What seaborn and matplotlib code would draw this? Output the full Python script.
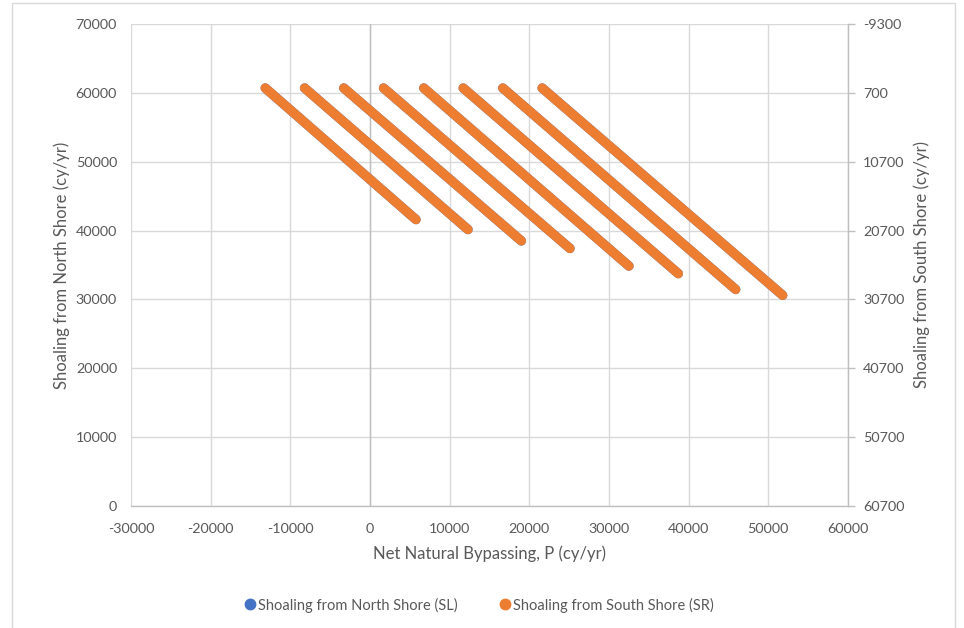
import matplotlib
matplotlib.use("Agg")
import matplotlib.pyplot as plt
from matplotlib.lines import Line2D
from matplotlib.patches import Rectangle
import numpy as np
import pandas as pd
import seaborn as sns

# Net natural bypassing P (cy/yr) at the two ends of each run
p_start = [-13150, -8210, -3290, 1700, 6750, 11700, 16670, 21610]
p_end = [5770, 12300, 19000, 25100, 32500, 38700, 45900, 51800]

# Shoaling from the north shore (left axis)
sl_start = [60700, 60700, 60700, 60700, 60700, 60700, 60700, 60700]
sl_end = [41600, 40150, 38500, 37400, 34850, 33750, 31450, 30600]

# Shoaling from the south shore (right axis, reversed)
sr_start = [0, 0, 0, 0, 0, 0, 0, 0]
sr_end = [19100, 20550, 22200, 23300, 25850, 26950, 29250, 30100]

x_ticks = [-30000, -20000, -10000, 0, 10000, 20000, 30000, 40000, 50000, 60000]
left_ticks = [0, 10000, 20000, 30000, 40000, 50000, 60000, 70000]
right_ticks = [-9300, 700, 10700, 20700, 30700, 40700, 50700, 60700]

BLUE = "#4472C4"
ORANGE = "#ED7D31"
TEXT = "#595959"
GRID = "#D9D9D9"
AXIS = "#BFBFBF"

rows = []
for i in range(len(p_start)):
    rows.append({"run": i, "P": p_start[i], "SL": sl_start[i], "SR": sr_start[i]})
    rows.append({"run": i, "P": p_end[i], "SL": sl_end[i], "SR": sr_end[i]})
df = pd.DataFrame(rows)

sns.set_theme(style="white")
plt.rcParams["font.family"] = ["Lato", "DejaVu Sans"]

fig = plt.figure(figsize=(9.64, 6.28), dpi=100)
ax = fig.add_axes([131 / 964, 1 - 506 / 628, (848 - 131) / 964, (506 - 24) / 628])

sns.lineplot(data=df, x="P", y="SL", units="run", estimator=None, sort=False,
             color=BLUE, lw=6.8, solid_capstyle="round", legend=False, ax=ax, zorder=3)

ax.set_xlim(-30000, 60000)
ax.set_ylim(0, 70000)
ax.set_xticks(x_ticks)
ax.set_yticks(left_ticks)
ax.set_xticklabels([str(v) for v in x_ticks])
ax.set_yticklabels([str(v) for v in left_ticks])
ax.grid(True, color=GRID, lw=1)
ax.set_axisbelow(True)
for s in ["top", "left", "right"]:
    ax.spines[s].set_visible(False)
ax.spines["bottom"].set_color(AXIS)
ax.spines["bottom"].set_linewidth(1)
ax.axvline(0, color=AXIS, lw=1, zorder=1)
ax.tick_params(axis="both", length=0, colors=TEXT, labelsize=10.4)
ax.tick_params(axis="x", pad=12)
ax.tick_params(axis="y", pad=10)
ax.set_xlabel("Net Natural Bypassing, P (cy/yr)", color=TEXT, fontsize=12, labelpad=8)
ax.set_ylabel("Shoaling from North Shore (cy/yr)", color=TEXT, fontsize=12, labelpad=4)

ax2 = ax.twinx()
sns.lineplot(data=df, x="P", y="SR", units="run", estimator=None, sort=False,
             color=ORANGE, lw=6.8, solid_capstyle="round", legend=False, ax=ax2, zorder=3)
ax2.set_ylim(60700, -9300)
ax2.set_yticks(right_ticks)
ax2.set_yticklabels([str(v) for v in right_ticks])
for s in ["top", "left", "bottom"]:
    ax2.spines[s].set_visible(False)
ax2.spines["right"].set_color(AXIS)
ax2.spines["right"].set_linewidth(1)
ax2.tick_params(axis="y", length=5, width=1, color=AXIS, labelcolor=TEXT,
                labelsize=10.4, pad=6)
ax2.set_ylabel("Shoaling from South Shore (cy/yr)", color=TEXT, fontsize=12, labelpad=6)

handles = [
    Line2D([], [], ls="none", marker="o", ms=7.5, mfc=BLUE, mec=BLUE,
           label="Shoaling from North Shore (SL)"),
    Line2D([], [], ls="none", marker="o", ms=7.5, mfc=ORANGE, mec=ORANGE,
           label="Shoaling from South Shore (SR)"),
]
leg = fig.legend(handles=handles, loc="center", bbox_to_anchor=(0.496, 1 - 605 / 628),
                 ncol=2, frameon=False, fontsize=10.5, handletextpad=0.0,
                 handlelength=1.0, columnspacing=2.8)
for t in leg.get_texts():
    t.set_color(TEXT)

fig.patches.append(Rectangle((12 / 964, -0.05), (955 - 12) / 964, 1.05 - 3 / 628,
                             transform=fig.transFigure, fill=False,
                             edgecolor=GRID, lw=1))

fig.savefig("out.png", dpi=100, facecolor="white")
